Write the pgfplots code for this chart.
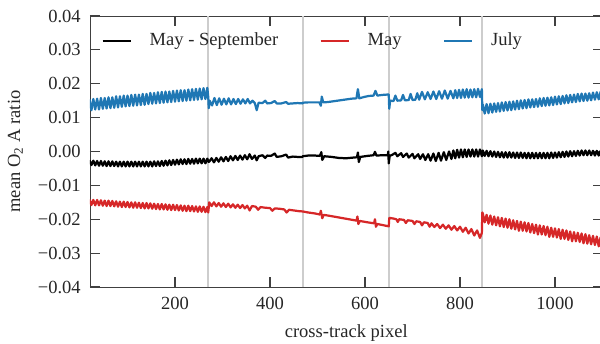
\documentclass[border=0pt]{standalone}
\usepackage{fontspec}
\setmainfont{Liberation Serif}
\usepackage{pgfplots}
\pgfplotsset{compat=1.18}
\definecolor{mblue}{RGB}{31,119,180}
\definecolor{mred}{RGB}{214,39,40}
\definecolor{vgray}{RGB}{205,205,205}
\begin{document}
\begin{tikzpicture}
\begin{axis}[
  scale only axis,
  width=276.75pt, height=146.34pt,
  xmin=21, xmax=1100, ymin=-0.04, ymax=0.04,
  xtick={200,400,600,800,1000},
  xticklabels={200,400,600,800,1000},
  ytick={-0.04,-0.03,-0.02,-0.01,0,0.01,0.02,0.03,0.04},
  yticklabels={−0.04,−0.03,−0.02,−0.01,0.00,0.01,0.02,0.03,0.04},
  scaled y ticks=false,
  major tick length=5.4pt,
  minor tick num=0,
  axis line style={black!75},
  tick style={black!75, line width=0.6pt},
  xticklabel style={yshift=-2pt, text=black!85},
  yticklabel style={xshift=-1.5pt, text=black!85},
  xlabel={cross-track pixel},
  ylabel={mean O\textsubscript{2} A ratio},
  xlabel style={at={(axis description cs:0.5,-0.17)}, anchor=center, text=black!85},
  ylabel style={at={(axis description cs:-0.1454,0.5)}, anchor=center, rotate=0, text=black!85},
  legend columns=3,
  legend image code/.code={\draw[#1, line width=1.2pt] (0pt,0pt) -- (15.3pt,0pt);},
  legend style={at={(axis description cs:0.0225,0.908)}, anchor=west, draw=none, fill=none,
    inner sep=0pt, outer sep=0pt, text=black!85,
    /tikz/every odd column/.append style={column sep=7.5pt},
    /tikz/every even column/.append style={column sep=20.3pt}},
  every axis plot/.append style={line join=round},
]
\addplot[forget plot, vgray, line width=1.2pt] coordinates {(270,-0.04) (270,0.04)};
\addplot[forget plot, vgray, line width=1.2pt] coordinates {(469,-0.04) (469,0.04)};
\addplot[forget plot, vgray, line width=1.2pt] coordinates {(651,-0.04) (651,0.04)};
\addplot[forget plot, vgray, line width=1.2pt] coordinates {(847,-0.04) (847,0.04)};

% May - September
\addplot[black, line width=1.2pt] coordinates {
(20,-0.0026) (24,-0.0040) (28,-0.0027) (32,-0.0041) (36,-0.0028) (40,-0.0042) (44,-0.0028) (48,-0.0042) (52,-0.0029) (56,-0.0043) (60,-0.0029) (64,-0.0043) (68,-0.0029) (72,-0.0043) (76,-0.0030) (80,-0.0044)
(84,-0.0030) (88,-0.0044) (92,-0.0030) (96,-0.0044) (100,-0.0030) (104,-0.0044) (108,-0.0030) (112,-0.0044) (116,-0.0030) (120,-0.0044) (124,-0.0030) (128,-0.0044) (132,-0.0030) (136,-0.0044) (140,-0.0030) (144,-0.0044)
(148,-0.0030) (152,-0.0044) (156,-0.0029) (160,-0.0043) (164,-0.0029) (168,-0.0043) (172,-0.0028) (176,-0.0042) (180,-0.0027) (184,-0.0041) (188,-0.0026) (192,-0.0040) (196,-0.0025) (200,-0.0039) (204,-0.0024) (208,-0.0038)
(212,-0.0023) (216,-0.0037) (220,-0.0023) (224,-0.0037) (228,-0.0022) (232,-0.0036) (236,-0.0022) (240,-0.0036) (244,-0.0021) (248,-0.0035) (252,-0.0021) (256,-0.0035) (260,-0.0021) (264,-0.0035) (268,-0.0021) (270,-0.0030)
(272,-0.0030) (277,-0.0020) (282,-0.0032) (287,-0.0019) (292,-0.0030) (297,-0.0017) (302,-0.0029) (307,-0.0016)
(312,-0.0028) (317,-0.0014) (322,-0.0026) (327,-0.0013) (332,-0.0025) (337,-0.0012) (342,-0.0024) (347,-0.0011)
(352,-0.0023) (357,-0.0008) (362,-0.0022) (368,-0.0012) (372,-0.0026) (376,-0.0014) (384,-0.0011) (390,-0.0019)
(394,-0.0012) (402,-0.0013) (410,-0.0006) (414,-0.0016) (424,-0.0014) (434,-0.0009) (438,-0.0018) (448,-0.0015)
(458,-0.0016) (468,-0.0016)
(469,-0.0014) (480,-0.0012) (495,-0.0012) (505,-0.0013) (508,-0.0002) (510,-0.0025) (514,-0.0014) (530,-0.0016)
(545,-0.0019) (560,-0.0020) (575,-0.0018) (583,-0.0017) (585,-0.0003) (587,-0.0031) (590,-0.0016) (605,-0.0013)
(618,-0.0011) (621,-0.0001) (624,-0.0012) (636,-0.0011) (648,-0.0011) (649,0.0000) (650,-0.0035) (652,-0.0012)
(656,-0.0011) (664,-0.0004) (668,-0.0014) (676,-0.0005) (680,-0.0016) (688,-0.0006) (692,-0.0018) (700,-0.0007)
(704,-0.0020) (712,-0.0008) (716,-0.0022) (722,-0.0008) (727,-0.0025) (733,-0.0008) (738,-0.0027) (744,-0.0006)
(749,-0.0028) (755,-0.0004) (760,-0.0027) (766,-0.0002) (771,-0.0025) (777,0.0000) (782,-0.0022) (786,0.0003)
(790,-0.0020) (794,0.0005) (798,-0.0018) (802,0.0006) (806,-0.0017) (810,0.0006) (814,-0.0016) (818,0.0006)
(822,-0.0015) (826,0.0006) (830,-0.0015) (834,0.0006) (838,-0.0015) (842,0.0006) (846,-0.0014)
(848,0.0003) (852,-0.0013) (856,0.0002) (860,-0.0014) (864,0.0001) (868,-0.0015) (872,0.0000) (876,-0.0016) (880,-0.0001) (884,-0.0017) (888,-0.0002) (892,-0.0018) (896,-0.0002) (900,-0.0018) (904,-0.0002) (908,-0.0018)
(912,-0.0003) (916,-0.0019) (920,-0.0003) (924,-0.0019) (928,-0.0003) (932,-0.0019) (936,-0.0004) (940,-0.0020) (944,-0.0004) (948,-0.0020) (952,-0.0004) (956,-0.0020) (960,-0.0004) (964,-0.0020) (968,-0.0004) (972,-0.0020)
(976,-0.0004) (980,-0.0020) (984,-0.0004) (988,-0.0020) (992,-0.0003) (996,-0.0019) (1000,-0.0003) (1004,-0.0018) (1008,-0.0002) (1012,-0.0017) (1016,-0.0001) (1020,-0.0016) (1024,0.0000) (1028,-0.0015) (1032,0.0001) (1036,-0.0014)
(1040,0.0001) (1044,-0.0013) (1048,0.0002) (1052,-0.0012) (1056,0.0003) (1060,-0.0011) (1064,0.0003) (1068,-0.0011) (1072,0.0003) (1076,-0.0011) (1080,0.0002) (1084,-0.0012) (1088,0.0002) (1092,-0.0012) (1096,0.0002) (1100,-0.0012)
};
\addlegendentry{May - September}

% May
\addplot[mred, line width=1.2pt] coordinates {
(20,-0.0142) (24,-0.0158) (28,-0.0143) (32,-0.0159) (36,-0.0143) (40,-0.0159) (44,-0.0144) (48,-0.0160) (52,-0.0145) (56,-0.0161) (60,-0.0145) (64,-0.0161) (68,-0.0146) (72,-0.0162) (76,-0.0147) (80,-0.0163)
(84,-0.0148) (88,-0.0164) (92,-0.0148) (96,-0.0164) (100,-0.0149) (104,-0.0165) (108,-0.0150) (112,-0.0166) (116,-0.0150) (120,-0.0166) (124,-0.0151) (128,-0.0167) (132,-0.0152) (136,-0.0168) (140,-0.0152) (144,-0.0168)
(148,-0.0153) (152,-0.0169) (156,-0.0154) (160,-0.0170) (164,-0.0155) (168,-0.0171) (172,-0.0155) (176,-0.0171) (180,-0.0156) (184,-0.0172) (188,-0.0157) (192,-0.0173) (196,-0.0157) (200,-0.0173) (204,-0.0158) (208,-0.0174)
(212,-0.0159) (216,-0.0175) (220,-0.0160) (224,-0.0176) (228,-0.0160) (232,-0.0176) (236,-0.0161) (240,-0.0177) (244,-0.0162) (248,-0.0178) (252,-0.0162) (256,-0.0178) (260,-0.0163) (264,-0.0179) (268,-0.0164) (270,-0.0180)
(272,-0.0150) (277,-0.0161) (282,-0.0150) (287,-0.0162) (292,-0.0152) (297,-0.0163) (302,-0.0153) (307,-0.0164)
(312,-0.0154) (317,-0.0165) (322,-0.0156) (327,-0.0166) (332,-0.0157) (337,-0.0167) (342,-0.0158) (347,-0.0168)
(352,-0.0160) (357,-0.0174) (362,-0.0161) (370,-0.0163) (375,-0.0172) (380,-0.0164) (390,-0.0166) (400,-0.0167)
(405,-0.0175) (410,-0.0168) (420,-0.0169) (430,-0.0171) (435,-0.0180) (440,-0.0172) (450,-0.0174) (460,-0.0176)
(469,-0.0177)
(480,-0.0180) (495,-0.0183) (505,-0.0186) (507,-0.0175) (510,-0.0197) (513,-0.0187) (530,-0.0191) (550,-0.0196)
(570,-0.0201) (582,-0.0204) (584,-0.0192) (586,-0.0214) (589,-0.0205) (605,-0.0209) (619,-0.0212) (621,-0.0200)
(623,-0.0222) (626,-0.0214) (640,-0.0218) (650,-0.0221)
(651,-0.0197) (652,-0.0196) (660,-0.0198) (666,-0.0200) (669,-0.0208) (672,-0.0200) (682,-0.0202) (686,-0.0211)
(690,-0.0203) (700,-0.0205) (704,-0.0214) (708,-0.0206) (716,-0.0208) (720,-0.0218) (724,-0.0209) (732,-0.0211)
(736,-0.0222) (740,-0.0212) (746,-0.0223) (752,-0.0214) (758,-0.0226) (764,-0.0216) (770,-0.0228) (776,-0.0218)
(782,-0.0231) (788,-0.0220) (794,-0.0233) (800,-0.0222) (806,-0.0237) (812,-0.0225) (818,-0.0242) (824,-0.0229)
(830,-0.0248) (836,-0.0233) (842,-0.0255) (846,-0.0240)
(847,-0.0180) (848,-0.0183) (852,-0.0209) (856,-0.0187) (860,-0.0213) (864,-0.0189) (868,-0.0216) (872,-0.0192) (876,-0.0218) (880,-0.0194) (884,-0.0221) (888,-0.0196) (892,-0.0223) (896,-0.0198) (900,-0.0225) (904,-0.0200) (908,-0.0228)
(912,-0.0203) (916,-0.0230) (920,-0.0205) (924,-0.0234) (928,-0.0207) (932,-0.0234) (936,-0.0209) (940,-0.0236) (944,-0.0211) (948,-0.0239) (952,-0.0214) (956,-0.0241) (960,-0.0216) (964,-0.0245) (968,-0.0218) (972,-0.0245)
(976,-0.0220) (980,-0.0247) (984,-0.0222) (988,-0.0252) (992,-0.0225) (996,-0.0252) (1000,-0.0227) (1004,-0.0254) (1008,-0.0229) (1012,-0.0258) (1016,-0.0231) (1020,-0.0258) (1024,-0.0233) (1028,-0.0261) (1032,-0.0236) (1036,-0.0265)
(1040,-0.0238) (1044,-0.0265) (1048,-0.0240) (1052,-0.0267) (1056,-0.0242) (1060,-0.0271) (1064,-0.0244) (1068,-0.0272) (1072,-0.0247) (1076,-0.0274) (1080,-0.0249) (1084,-0.0276) (1088,-0.0251) (1092,-0.0280) (1096,-0.0253) (1100,-0.0279)
};
\addlegendentry{May}

% July
\addplot[mblue, line width=1.2pt] coordinates {
(20,0.0154) (24,0.0122) (28,0.0155) (32,0.0124) (36,0.0156) (40,0.0124) (44,0.0158) (48,0.0126) (52,0.0158) (56,0.0127) (60,0.0160) (64,0.0128) (68,0.0160) (72,0.0129) (76,0.0163) (80,0.0130)
(84,0.0163) (88,0.0132) (92,0.0165) (96,0.0133) (100,0.0165) (104,0.0134) (108,0.0167) (112,0.0135) (116,0.0168) (120,0.0136) (124,0.0168) (128,0.0137) (132,0.0170) (136,0.0138) (140,0.0170) (144,0.0140)
(148,0.0173) (152,0.0141) (156,0.0173) (160,0.0142) (164,0.0175) (168,0.0143) (172,0.0176) (176,0.0144) (180,0.0177) (184,0.0145) (188,0.0177) (192,0.0146) (196,0.0179) (200,0.0147) (204,0.0180) (208,0.0148)
(212,0.0181) (216,0.0149) (220,0.0181) (224,0.0150) (228,0.0183) (232,0.0151) (236,0.0184) (240,0.0152) (244,0.0185) (248,0.0153) (252,0.0186) (256,0.0154) (260,0.0187) (264,0.0155) (268,0.0188) (270,0.0160)
(271,0.0128)
(273,0.0150) (278,0.0136) (283,0.0158) (288,0.0137) (293,0.0157) (298,0.0138) (303,0.0156) (308,0.0139)
(313,0.0157) (318,0.0139) (323,0.0155) (328,0.0140) (333,0.0155) (338,0.0141) (343,0.0154) (348,0.0142)
(353,0.0155) (358,0.0142) (363,0.0150) (368,0.0143) (372,0.0122) (376,0.0144) (384,0.0143) (390,0.0150)
(394,0.0142) (402,0.0143) (410,0.0149) (414,0.0142) (424,0.0142) (434,0.0146) (438,0.0141) (448,0.0142)
(458,0.0143) (468,0.0142)
(469,0.0144) (480,0.0145) (492,0.0145) (504,0.0145) (507,0.0135) (509,0.0162) (512,0.0145) (522,0.0146)
(532,0.0148) (542,0.0150) (552,0.0152) (562,0.0154) (572,0.0156) (582,0.0157) (585,0.0184) (588,0.0157)
(598,0.0161) (608,0.0164) (618,0.0165) (622,0.0179) (626,0.0165) (636,0.0167) (646,0.0168) (650,0.0168)
(651,0.0126) (653,0.0150)
(660,0.0149) (664,0.0165) (668,0.0150) (676,0.0151) (680,0.0167) (684,0.0151) (692,0.0152) (696,0.0170)
(700,0.0152) (706,0.0153) (710,0.0172) (714,0.0153) (720,0.0176) (726,0.0154) (732,0.0175) (738,0.0155)
(744,0.0177) (750,0.0155) (756,0.0178) (762,0.0156) (768,0.0180) (774,0.0156) (780,0.0179) (786,0.0157)
(790,0.0181) (794,0.0158) (798,0.0182) (802,0.0158) (806,0.0183) (810,0.0159) (814,0.0184) (818,0.0159)
(822,0.0183) (826,0.0160) (830,0.0184) (834,0.0160) (838,0.0185) (842,0.0161) (846,0.0184)
(847,0.0122) (848,0.0139) (852,0.0112) (856,0.0140) (860,0.0113) (864,0.0141) (868,0.0115) (872,0.0142) (876,0.0117) (880,0.0143) (884,0.0118) (888,0.0145) (892,0.0120) (896,0.0146) (900,0.0121) (904,0.0147) (908,0.0122)
(912,0.0148) (916,0.0124) (920,0.0150) (924,0.0125) (928,0.0151) (932,0.0127) (936,0.0152) (940,0.0128) (944,0.0154) (948,0.0130) (952,0.0154) (956,0.0131) (960,0.0155) (964,0.0132) (968,0.0157) (972,0.0134)
(976,0.0158) (980,0.0135) (984,0.0159) (988,0.0136) (992,0.0160) (996,0.0137) (1000,0.0162) (1004,0.0139) (1008,0.0163) (1012,0.0140) (1016,0.0164) (1020,0.0142) (1024,0.0166) (1028,0.0143) (1032,0.0167) (1036,0.0145)
(1040,0.0168) (1044,0.0146) (1048,0.0170) (1052,0.0148) (1056,0.0171) (1060,0.0149) (1064,0.0171) (1068,0.0150) (1072,0.0172) (1076,0.0151) (1080,0.0174) (1084,0.0153) (1088,0.0175) (1092,0.0154) (1096,0.0176) (1100,0.0155)
};
\addlegendentry{July}
\end{axis}
\pgfresetboundingbox
\useasboundingbox ([shift={(-48.6pt,-30.24pt)}]current axis.south west) rectangle ([shift={(-1.35pt,8.64pt)}]current axis.north east);
\end{tikzpicture}
\end{document}
